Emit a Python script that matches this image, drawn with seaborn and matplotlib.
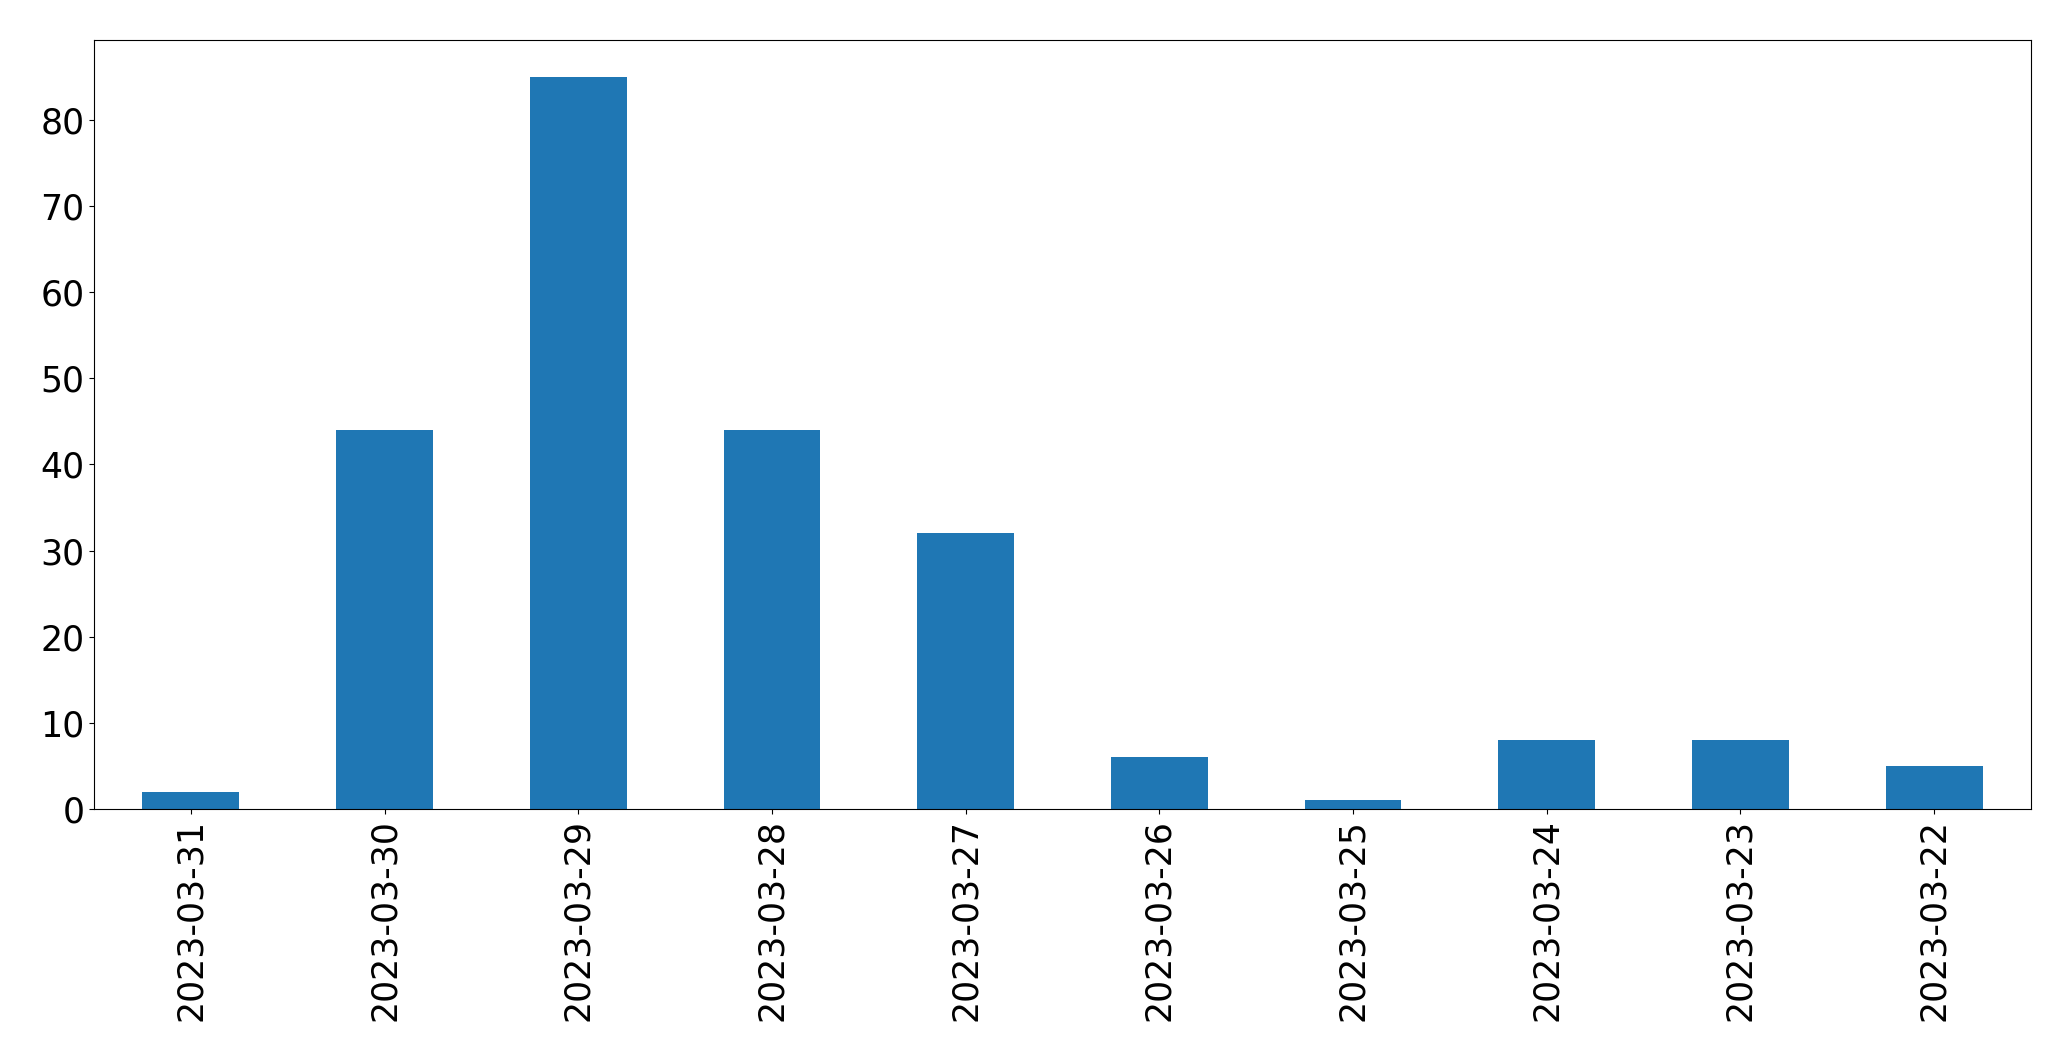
import matplotlib
matplotlib.use("Agg")
import matplotlib.pyplot as plt
import seaborn as sns
import pandas as pd

dates = ["2023-03-31", "2023-03-30", "2023-03-29", "2023-03-28", "2023-03-27",
         "2023-03-26", "2023-03-25", "2023-03-24", "2023-03-23", "2023-03-22"]
counts = [2, 44, 85, 44, 32, 6, 1, 8, 8, 5]

df = pd.DataFrame({"date": dates, "count": counts})

fig = plt.figure(figsize=(20.71, 10.61), dpi=100)
ax = fig.add_axes([94 / 2071, 1 - 809 / 1061, (2031 - 94) / 2071, (809 - 40) / 1061])
sns.barplot(data=df, x="date", y="count", order=dates, color="#1f77b4",
            saturation=1, width=0.5, ax=ax)
ax.set_xlim(-0.5, len(dates) - 0.5)
ax.set_ylim(0, max(counts) * 1.05)
ax.set_xlabel("")
ax.set_ylabel("")
ax.tick_params(axis="both", labelsize=25)
ax.tick_params(axis="x", labelrotation=90)
for s in ax.spines.values():
    s.set_visible(True)
fig.savefig("out.png", dpi=100)
